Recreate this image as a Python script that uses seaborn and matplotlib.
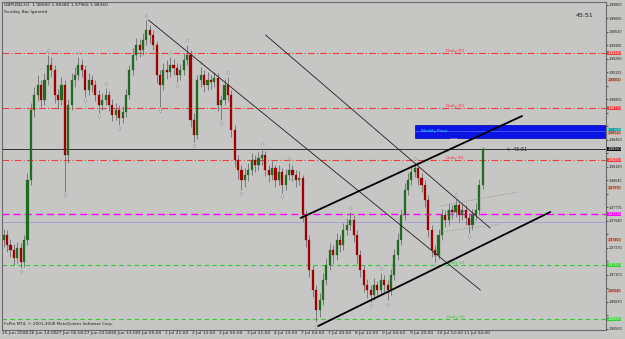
import numpy as np
import pandas as pd
import matplotlib
matplotlib.use("Agg")
import matplotlib.pyplot as plt
import seaborn as sns
from matplotlib.patches import Rectangle
from matplotlib import font_manager

sns.set_style("white")
plt.rcParams['font.family'] = ['DejaVu Sans']
_names = {f.name for f in font_manager.fontManager.ttflist}
NARROW = ["Liberation Sans Narrow"] if "Liberation Sans Narrow" in _names else ["Liberation Sans"]

# ---------------- data (prices in points, 1 point = 0.0001) ----------------
first_open_pts = 19745
close_pts = [19750,19740,19735,19727,19737,19723,19745,19805,19875,19890,
             19900,19885,19905,19920,19915,19890,19885,19900,19830,19880,
             19905,19910,19920,19915,19895,19905,19900,19890,19880,19885,
             19890,19880,19870,19875,19867,19873,19890,19915,19930,19940,
             19935,19945,19955,19950,19940,19910,19900,19915,19913,19920,
             19917,19910,19915,19925,19930,19865,19850,19905,19910,19900,
             19905,19903,19907,19880,19885,19900,19890,19855,19825,19815,
             19805,19810,19815,19825,19820,19827,19830,19815,19810,19817,
             19805,19813,19800,19810,19815,19810,19805,19807,19770,19745,
             19715,19695,19675,19685,19705,19720,19735,19730,19745,19740,
             19755,19760,19765,19750,19730,19715,19700,19695,19690,19700,
             19695,19705,19700,19695,19710,19730,19745,19770,19795,19805,
             19813,19817,19807,19800,19785,19755,19735,19730,19750,19770,
             19765,19775,19773,19780,19770,19775,19767,19760,19770,19775,
             19800,19836]
high_pts = [19756,19755,19746,19741,19743,19742,19750,19812,19882,19898,
            19910,19905,19912,19930,19928,19920,19896,19908,19905,19886,
            19912,19918,19928,19926,19920,19912,19910,19905,19895,19892,
            19897,19894,19886,19882,19880,19879,19896,19920,19937,19947,
            19946,19952,19965,19960,19955,19944,19915,19922,19925,19928,
            19926,19922,19921,19932,19940,19935,19872,19910,19918,19915,
            19913,19910,19913,19912,19890,19906,19908,19895,19860,19830,
            19820,19817,19822,19832,19830,19833,19837,19834,19820,19824,
            19820,19820,19817,19816,19822,19820,19815,19814,19810,19775,
            19750,19720,19700,19692,19712,19727,19742,19740,19752,19750,
            19762,19767,19773,19770,19755,19735,19720,19706,19700,19707,
            19704,19712,19710,19705,19716,19736,19752,19776,19802,19812,
            19820,19822,19820,19812,19805,19790,19760,19740,19756,19776,
            19775,19782,19780,19786,19784,19782,19780,19772,19776,19782,
            19806,19838]
low_pts = [19738,19733,19728,19720,19722,19717,19718,19740,19800,19868,
           19884,19878,19880,19900,19908,19882,19876,19880,19793,19822,
           19875,19898,19905,19908,19888,19890,19893,19884,19872,19875,
           19880,19874,19864,19865,19860,19862,19868,19886,19910,19925,
           19928,19930,19940,19942,19935,19902,19878,19895,19906,19908,
           19910,19903,19905,19910,19920,19858,19843,19846,19898,19893,
           19895,19896,19898,19874,19865,19880,19884,19848,19818,19806,
           19795,19798,19804,19810,19813,19815,19820,19809,19803,19805,
           19798,19800,19792,19795,19805,19804,19798,19800,19763,19738,
           19708,19688,19663,19668,19680,19700,19715,19722,19725,19733,
           19735,19750,19755,19743,19722,19708,19693,19687,19683,19685,
           19688,19690,19693,19685,19690,19705,19725,19740,19765,19790,
           19800,19808,19800,19793,19778,19748,19728,19723,19726,19745,
           19758,19760,19766,19768,19763,19765,19760,19752,19755,19765,
           19770,19796]

date_labels = ["25 Jun 2008", "26 Jun 14:00", "27 Jun 06:00", "27 Jun 22:00",
               "30 Jun 13:00", "1 Jul 05:00", "1 Jul 21:00", "2 Jul 13:00",
               "3 Jul 05:00", "3 Jul 21:00", "4 Jul 13:00", "7 Jul 04:00",
               "7 Jul 20:00", "8 Jul 12:00", "9 Jul 04:00", "9 Jul 20:00",
               "10 Jul 12:00", "11 Jul 04:00"]
bars_per_label = 8

price_ticks = [1.99800, 1.99665, 1.99530, 1.99395, 1.99260, 1.99125, 1.98990,
               1.98855, 1.98720, 1.98585, 1.98450, 1.98315, 1.98180, 1.98045,
               1.97910, 1.97775, 1.97640, 1.97505, 1.97370, 1.97235, 1.97100,
               1.96965, 1.96830, 1.96695, 1.96560]

pivot_names = ["Daily R3", "Daily R2", "Daily R1", "Daily PP", "Daily S1", "Daily S2"]
pivot_levels = [1.99320, 1.98770, 1.98250, 1.97710, 1.97200, 1.96660]
pivot_colors = ["#f03c3c", "#f03c3c", "#f03c3c", "#ff00ff", "#33cc33", "#33cc33"]
pivot_styles = ["-.", "-.", "-.", "--", "--", "--"]

bid_price = 1.98360
weekly_low, weekly_high = 1.98470, 1.98600
weekly_start_bar = 121.2
weekly_level = 1.98550
other_level = 1.97630
extra_axis_levels = [1.99050, 1.98520, 1.97970, 1.97450, 1.96940]

# trend lines: (bar, price) anchors
trend_thin = [([42.6, 140.3], [1.99650, 1.96950]),
              ([77.1, 143.2], [1.99500, 1.97570])]
trend_thick = [([87.4, 152.6], [1.97670, 1.98690]),
               ([92.6, 160.9], [1.96590, 1.97730])]
trend_dotted = [([128.5, 151.2], [1.97790, 1.97930]),
                ([128.5, 146.2], [1.97530, 1.97610])]

# ---------------- derived frame ----------------
close = np.array(close_pts) / 1e4
high = np.array(high_pts) / 1e4
low = np.array(low_pts) / 1e4
opn = np.concatenate([[first_open_pts / 1e4], close[:-1]])
n = len(close)
df = pd.DataFrame({"bar": np.arange(n), "open": opn, "high": high,
                   "low": low, "close": close})

# ---------------- figure ----------------
BG = "#c6c6c4"
XMAX = 177.3
fig = plt.figure(figsize=(6.25, 3.39), dpi=100, facecolor=BG)
ax = fig.add_axes([2/625, 9/339, 604/625, 328/339], facecolor=BG)
ax.set_xlim(-0.3, XMAX)
ax.set_ylim(1.96550, 1.99830)

# pivot lines
for lvl, nm, col, ls in zip(pivot_levels, pivot_names, pivot_colors, pivot_styles):
    ax.axhline(lvl, color=col, ls=ls, lw=0.8 if col != "#ff00ff" else 1.0,
               dashes=(6, 2, 1, 2) if ls == "-." else ((5, 3) if col == "#ff00ff" else (4, 3)))
    ax.text(133, lvl + 0.00004, nm, color=col, fontsize=3.2, ha="center", va="bottom")
ax.axhline(other_level, color="#9c9cd8", lw=0.6)
ax.axhline(bid_price, color="#303030", lw=0.7)

# weekly pivot box
ax.add_patch(Rectangle((weekly_start_bar, weekly_low), XMAX - weekly_start_bar,
                       weekly_high - weekly_low, facecolor="#0a14e6",
                       edgecolor="#0000a0", lw=0.5, zorder=2))
ax.plot([weekly_start_bar, XMAX], [(weekly_low + weekly_high) / 2 + 0.00001] * 2,
        color="#4060ff", lw=0.6, zorder=2)
ax.text(weekly_start_bar + 1.5, (weekly_low + weekly_high) / 2, "Weekly Pivot",
        color="#40e0ff", fontsize=3.0, va="center", zorder=3)
ax.text(weekly_start_bar + 10, weekly_low - 0.00002, "OSR", color="#e0e0e0",
        fontsize=3.0, va="top", zorder=3)

# candles
up = df["close"] >= df["open"]
ax.vlines(df["bar"], df["low"], df["high"], color="#6e6e6e", lw=0.6, zorder=4)
body = (df["close"] - df["open"]).where(lambda s: s.abs() > 0.00002, 0.00002)
ax.bar(df["bar"][up], body[up], bottom=df["open"][up], width=0.62,
       color="#1f6b1f", edgecolor="#1f6b1f", lw=0.2, zorder=5)
ax.bar(df["bar"][~up], body[~up], bottom=df["open"][~up], width=0.62,
       color="#a00000", edgecolor="#a00000", lw=0.2, zorder=5)

# fractals
fr_up, fr_dn = [], []
for i in range(2, n - 2):
    if high[i] > max(high[i-2], high[i-1], high[i+1], high[i+2]):
        fr_up.append((i, high[i] + 0.00045))
    if low[i] < min(low[i-2], low[i-1], low[i+1], low[i+2]):
        fr_dn.append((i, low[i] - 0.00045))
fu = pd.DataFrame(fr_up, columns=["bar", "price"])
fd = pd.DataFrame(fr_dn, columns=["bar", "price"])
sns.scatterplot(data=fu, x="bar", y="price", marker="^", s=5, color="#d8d8d8",
                edgecolor="#8a8a8a", linewidth=0.3, ax=ax, zorder=6, legend=False)
sns.scatterplot(data=fd, x="bar", y="price", marker="v", s=5, color="#d8d8d8",
                edgecolor="#8a8a8a", linewidth=0.3, ax=ax, zorder=6, legend=False)

# trend lines
for xs, ys in trend_thin:
    sns.lineplot(x=xs, y=ys, color="#202020", lw=0.6, ax=ax, zorder=7)
for xs, ys in trend_thick:
    sns.lineplot(x=xs, y=ys, color="#000000", lw=1.3, ax=ax, zorder=7)
for xs, ys in trend_dotted:
    sns.lineplot(x=xs, y=ys, color="#8c8c8c", lw=0.6, ls=":", ax=ax, zorder=7)

# texts
ax.text(0.004, 0.997, "GBPUSD,H1  1.98000 1.98380 1.97960 1.98360",
        transform=ax.transAxes, fontsize=3.2, va="top", color="#202020")
ax.text(0.004, 0.975, "Sunday Bar Ignored", transform=ax.transAxes,
        fontsize=3.2, va="top", color="#202020")
ax.text(0.98, 0.965, "45:51", transform=ax.transAxes, fontsize=4.5,
        ha="right", va="top", color="#202020")
ax.text(n + 6, bid_price - 0.0001, "<  45:51", fontsize=3.5, color="#202020",
        ha="left", va="center")
ax.text(0.003, 0.012, "FxPro MT4, \u00a9 2001-2008 MetaQuotes Software Corp.",
        transform=ax.transAxes, fontsize=3.0, va="bottom", color="#202020")

# coloured price tags on the axis
tag_items = [(pivot_levels[0], "#f03c3c", "white"), (pivot_levels[1], "#f03c3c", "white"),
             (pivot_levels[2], "#f03c3c", "white"), (pivot_levels[3], "#ff00ff", "white"),
             (pivot_levels[4], "#33cc33", "white"), (pivot_levels[5], "#33cc33", "white"),
             (bid_price, "#101010", "white"), (weekly_level, "#40e8e8", "#202020")]
tag_items += [(v, "#e0a898", "#202020") for v in extra_axis_levels]
tag_vals = [t[0] for t in tag_items]

# axes styling
for s in ax.spines.values():
    s.set_color("#6a6a6a")
    s.set_linewidth(0.8)
ax.yaxis.tick_right()
ax.set_yticks(price_ticks)
ax.set_yticklabels(["" if min(abs(v - t) for t in tag_vals) < 0.0006 else f"{v:.5f}"
                    for v in price_ticks])
ax.tick_params(axis="y", labelsize=2.7, length=1.2, width=0.5, pad=0.4,
               colors="#202020")
for lbl in ax.get_yticklabels():
    lbl.set_family(NARROW)
ax.set_xticks([k * bars_per_label - 0.5 for k in range(len(date_labels))])
ax.set_xticklabels(date_labels, ha="left")
ax.tick_params(axis="x", labelsize=3.2, length=2, width=0.5, pad=0.5,
               colors="#202020", direction="in")
ax.set_xlabel("")
ax.set_ylabel("")

for val, fc, tc in tag_items:
    ax.annotate(f"{val:.5f}", xy=(1.0, val), xycoords=("axes fraction", "data"),
                xytext=(1.0, 0), textcoords="offset points", fontsize=2.7,
                family=NARROW, color=tc, va="center", ha="left",
                annotation_clip=False,
                bbox=dict(boxstyle="square,pad=0.1", fc=fc, ec="none"))

fig.savefig("out.png", dpi=100, facecolor=BG)
